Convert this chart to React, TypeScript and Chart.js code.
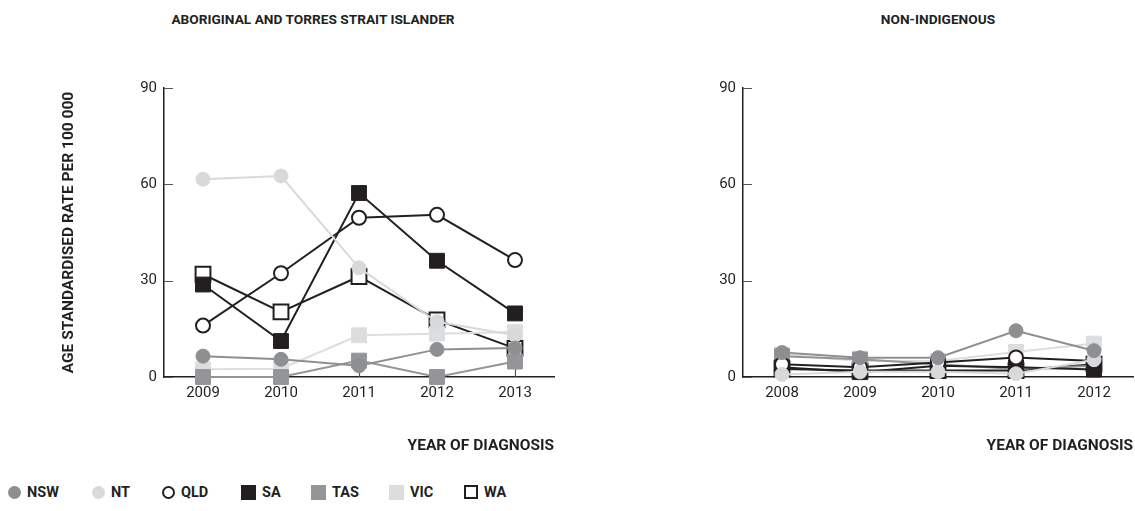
import React, { useEffect, useRef } from "react";
import { Chart, registerables } from "chart.js";

Chart.register(...registerables);

// ---------- data ----------
const YEARS_ATSI = ["2009", "2010", "2011", "2012", "2013"];
const YEARS_NON = ["2008", "2009", "2010", "2011", "2012"];
const Y_TICKS = [0, 30, 60, 90];
const STATES = ["NSW", "NT", "QLD", "SA", "TAS", "VIC", "WA"];

const ATSI_NSW = [6.5, 5.5, 3.5, 8.6, 9];
const ATSI_NT = [61.6, 62.6, 34, 17.2, 13];
const ATSI_QLD = [16, 32.3, 49.6, 50.5, 36.4];
const ATSI_SA = [28.8, 11.2, 57.3, 36.2, 19.8];
const ATSI_TAS = [0, 0, 5.1, 0, 4.8];
const ATSI_VIC = [2.4, 2.6, 13, 13.5, 14];
const ATSI_WA = [32, 20.3, 31.3, 17.8, 8.9];

const NON_NSW = [7.6, 6, 6, 14.4, 8.2];
const NON_NT = [0.8, 1.6, 1.6, 1, 5.4];
const NON_QLD = [4, 3, 4.5, 6.1, 5];
const NON_SA = [3, 1.5, 3.5, 3, 2.3];
const NON_TAS = [6.5, 5.5, 4, 2.5, 3.5];
const NON_VIC = [7, 5, 5, 7.8, 10.4];
const NON_WA = [2.5, 2, 2, 2, 4];

const ATSI_SERIES = [ATSI_NSW, ATSI_NT, ATSI_QLD, ATSI_SA, ATSI_TAS, ATSI_VIC, ATSI_WA];
const NON_SERIES = [NON_NSW, NON_NT, NON_QLD, NON_SA, NON_TAS, NON_VIC, NON_WA];

// ---------- styles ----------
const INK = "#231f20";
const FONT = "Roboto, 'Liberation Sans', sans-serif";

type Sty = { shape: "circle" | "rect"; fill: string; stroke: string; line: string };
const STYLES: Record<string, Sty> = {
  NSW: { shape: "circle", fill: "#8e8f91", stroke: "#8e8f91", line: "#8e8f91" },
  NT: { shape: "circle", fill: "#d8d9db", stroke: "#d8d9db", line: "#d8d9db" },
  QLD: { shape: "circle", fill: "#ffffff", stroke: INK, line: INK },
  SA: { shape: "rect", fill: INK, stroke: INK, line: INK },
  TAS: { shape: "rect", fill: "#949598", stroke: "#949598", line: "#949598" },
  VIC: { shape: "rect", fill: "#dcdddf", stroke: "#dcdddf", line: "#dcdddf" },
  WA: { shape: "rect", fill: "#ffffff", stroke: INK, line: INK },
};

const innerTicks = {
  id: "innerTicks",
  beforeDatasetsDraw(chart: any) {
    const { ctx, chartArea, scales } = chart;
    const x = scales.x;
    const y = scales.y;
    ctx.save();
    ctx.strokeStyle = "#555";
    ctx.lineWidth = 1.2;
    ctx.beginPath();
    y.ticks.forEach((_t: any, i: number) => {
      const py = Math.round(y.getPixelForTick(i)) + 0.5;
      ctx.moveTo(chartArea.left, py);
      ctx.lineTo(chartArea.left + 9, py);
    });
    x.ticks.forEach((_t: any, i: number) => {
      const px = Math.round(x.getPixelForTick(i)) + 0.5;
      ctx.moveTo(px, chartArea.bottom);
      ctx.lineTo(px, chartArea.bottom - 8);
    });
    ctx.stroke();
    ctx.restore();
  },
};

function buildConfig(labels: string[], series: number[][], showYTitle: boolean, yWidth: number, rightPad: number) {
  const datasets = STATES.map((s, i) => {
    const st = STYLES[s];
    return {
      label: s,
      data: series[i],
      borderColor: st.line,
      borderWidth: 2,
      backgroundColor: st.fill,
      pointStyle: st.shape,
      pointRadius: st.shape === "circle" ? 7 : 10.5,
      pointBackgroundColor: st.fill,
      pointBorderColor: st.stroke,
      pointBorderWidth: st.fill === "#ffffff" ? 2 : 1,
      tension: 0,
      clip: false as any,
    };
  });
  return {
    type: "line" as const,
    data: { labels, datasets },
    plugins: [innerTicks],
    options: {
      animation: false as const,
      responsive: false,
      devicePixelRatio: 1,
      layout: { padding: { top: 88, bottom: 6, left: 0, right: rightPad } },
      plugins: { legend: { display: false }, tooltip: { enabled: false }, title: { display: false } },
      scales: {
        x: {
          type: "category" as const,
          offset: true,
          grid: { display: false, drawTicks: false },
          border: { display: true, color: INK, width: 1.5 },
          ticks: { color: INK, font: { family: FONT, size: 15 }, padding: 7, maxRotation: 0 },
          title: {
            display: true,
            text: "YEAR OF DIAGNOSIS",
            align: "end" as const,
            color: INK,
            font: { family: FONT, size: 15.5, weight: "bold" as const, lineHeight: 1.2 },
            padding: { top: 0, bottom: 0 },
          },
          afterFit: (scale: any) => {
            scale.height = 78;
            scale.paddingLeft = 0;
            scale.paddingRight = 0;
          },
        },
        y: {
          min: 0,
          max: 90,
          afterBuildTicks: (scale: any) => {
            scale.ticks = Y_TICKS.map((v) => ({ value: v }));
          },
          grid: { display: false, drawTicks: false },
          border: { display: true, color: INK, width: 1.5 },
          ticks: { color: INK, font: { family: FONT, size: 15 }, padding: 7 },
          title: {
            display: showYTitle,
            text: "AGE STANDARDISED RATE PER 100 000",
            color: INK,
            font: { family: FONT, size: 15.5, weight: "bold" as const, lineHeight: 1.2 },
            padding: { top: 60, bottom: 0 },
          },
          afterFit: (scale: any) => {
            scale.width = yWidth;
          },
        },
      },
    },
  };
}

function LineChart(props: { labels: string[]; series: number[][]; showYTitle: boolean; yWidth: number; rightPad: number; width: number; height: number }) {
  const ref = useRef<HTMLCanvasElement | null>(null);
  useEffect(() => {
    if (!ref.current) return;
    const chart = new Chart(ref.current, buildConfig(props.labels, props.series, props.showYTitle, props.yWidth, props.rightPad) as any);
    return () => chart.destroy();
  }, []);
  return <canvas ref={ref} width={props.width} height={props.height} style={{ width: props.width, height: props.height, display: "block" }} />;
}

const LEGEND_X = [8, 92, 162, 241, 311, 389, 464];

function LegendMarker({ st }: { st: Sty }) {
  const open = st.fill === "#ffffff";
  if (st.shape === "circle") {
    return (
      <span
        style={{
          display: "inline-block",
          width: open ? 9 : 13,
          height: open ? 9 : 13,
          borderRadius: "50%",
          background: st.fill,
          border: open ? `2.5px solid ${INK}` : "none",
        }}
      />
    );
  }
  return (
    <span
      style={{
        display: "inline-block",
        width: open ? 10 : 15,
        height: open ? 10 : 15,
        background: st.fill,
        border: open ? `2.5px solid ${INK}` : "none",
      }}
    />
  );
}

export default function App() {
  const titleStyle: React.CSSProperties = {
    position: "absolute",
    top: 10,
    width: 400,
    textAlign: "center",
    fontFamily: FONT,
    fontWeight: 700,
    fontSize: 13.7,
    color: INK,
    lineHeight: "18px",
    whiteSpace: "nowrap",
  };
  return (
    <div style={{ position: "absolute", left: 0, top: 0, width: 1135, height: 511, background: "#fff", overflow: "hidden" }}>
      <div style={{ ...titleStyle, left: 313 - 200 }}>ABORIGINAL AND TORRES STRAIT ISLANDER</div>
      <div style={{ ...titleStyle, left: 938 - 200 }}>NON-INDIGENOUS</div>
      <div style={{ position: "absolute", left: 0, top: 0 }}>
        <LineChart labels={YEARS_ATSI} series={ATSI_SERIES} showYTitle={true} yWidth={164} rightPad={26} width={580} height={461} />
      </div>
      <div style={{ position: "absolute", left: 600, top: 0, width: 560 }}>
        <LineChart labels={YEARS_NON} series={NON_SERIES} showYTitle={false} yWidth={143} rightPad={27} width={560} height={461} />
      </div>
      {STATES.map((s, i) => (
        <div
          key={s}
          style={{
            position: "absolute",
            left: LEGEND_X[i],
            top: 483,
            height: 18,
            display: "flex",
            alignItems: "center",
            gap: 6,
            fontFamily: FONT,
            fontWeight: 700,
            fontSize: 14.5,
            color: INK,
            whiteSpace: "nowrap",
          }}
        >
          <LegendMarker st={STYLES[s]} />
          <span>{s}</span>
        </div>
      ))}
    </div>
  );
}
